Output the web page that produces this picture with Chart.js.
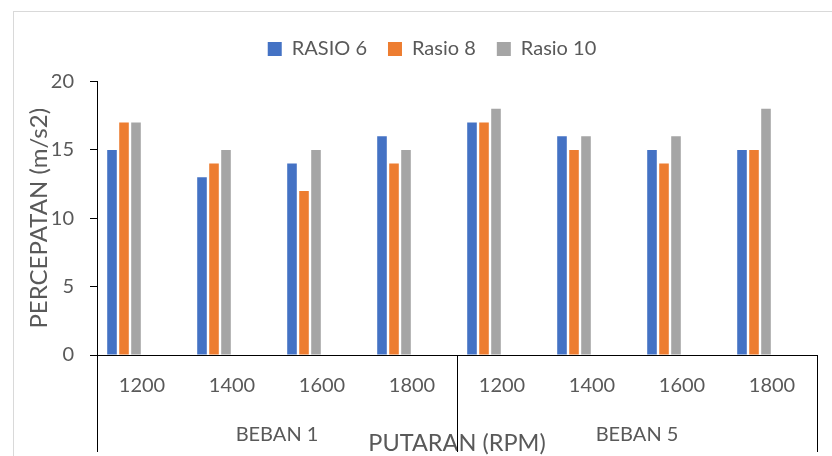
<!DOCTYPE html>
<html>
<head>
<meta charset="utf-8">
<script src="https://cdn.jsdelivr.net/npm/chart.js@4/dist/chart.umd.min.js"></script>
<style>
  html, body { margin: 0; padding: 0; background: #ffffff; overflow: hidden; }
  #wrap { position: relative; width: 832px; height: 456px; overflow: hidden; }
  #frame { position: absolute; left: 13px; top: 11px; width: 900px; height: 600px; border: 1px solid #d9d9d9; }
  #c { position: absolute; left: 0; top: 0; }
</style>
</head>
<body>
<div id="wrap">
  <div id="frame"></div>
  <canvas id="c" width="832" height="456"></canvas>
</div>
<script>
// ---- data ----
const categories = ['1200', '1400', '1600', '1800', '1200', '1400', '1600', '1800'];
const groups = ['BEBAN 1', 'BEBAN 5'];
const seriesNames = ['RASIO 6', 'Rasio 8', 'Rasio 10'];
const rasio6 = [15, 13, 14, 16, 17, 16, 15, 15];
const rasio8 = [17, 14, 12, 14, 17, 15, 14, 15];
const rasio10 = [17, 15, 15, 15, 18, 16, 16, 18];
const emptySeries = [];
const yTickStep = 5;
const yMin = 0;
const yMax = 20;
const xTitle = 'PUTARAN (RPM)';
const yTitle = 'PERCEPATAN (m/s2)';

const colors = ['#4472C4', '#ED7D31', '#A5A5A5'];
const textColor = '#595959';
const FONT = 'Lato, "Open Sans", sans-serif';

function build() {
  const seriesValues = [rasio6, rasio8, rasio10];
  const datasets = seriesValues.map((vals, i) => ({
    label: seriesNames[i],
    data: vals,
    backgroundColor: colors[i],
    borderWidth: 0,
    categoryPercentage: 0.8,
    barPercentage: 0.8
  }));
  // three empty series (as in the source workbook) keep the bar slots
  for (let k = 0; k < 3; k++) {
    datasets.push({ label: '', data: emptySeries, backgroundColor: 'rgba(0,0,0,0)', categoryPercentage: 0.8, barPercentage: 0.8 });
  }

  const legendSpace = {
    id: 'legendSpace',
    beforeInit(chart) {
      const origFit = chart.legend.fit;
      chart.legend.fit = function () {
        origFit.bind(chart.legend)();
        this.height += 12.5;
      };
    }
  };

  const dividerLines = {
    id: 'dividerLines',
    afterDraw(chart) {
      const xs = chart.scales.x;
      const ctx = chart.ctx;
      const bottom = chart.height - 4;
      ctx.save();
      ctx.strokeStyle = '#000000';
      ctx.lineWidth = 1;
      const positions = [-0.5, (categories.length / groups.length) - 0.5, categories.length - 0.5];
      positions.forEach(v => {
        const px = Math.round(xs.getPixelForValue(v)) + 0.5;
        ctx.beginPath();
        ctx.moveTo(px, xs.top);
        ctx.lineTo(px, bottom);
        ctx.stroke();
      });
      ctx.restore();
    }
  };

  new Chart(document.getElementById('c'), {
    type: 'bar',
    data: { labels: categories, datasets },
    plugins: [legendSpace, dividerLines],
    options: {
      responsive: false,
      animation: false,
      devicePixelRatio: 1,
      layout: { padding: { left: 47, right: 15, top: 18, bottom: 0 } },
      plugins: {
        legend: {
          display: true,
          position: 'top',
          labels: {
            boxWidth: 14,
            boxHeight: 14,
            padding: 21,
            color: textColor,
            font: { family: FONT, size: 20 },
            filter: item => item.text !== ''
          }
        },
        tooltip: { enabled: false }
      },
      scales: {
        x: {
          type: 'category',
          position: 'bottom',
          weight: 0,
          offset: true,
          grid: { display: false, drawTicks: false },
          border: { display: true, color: '#000000', width: 1 },
          ticks: { color: textColor, font: { family: FONT, size: 20 }, padding: 19, maxRotation: 0, autoSkip: false },
          afterFit(axis) { axis.height = 62; }
        },
        x2: {
          type: 'category',
          position: 'bottom',
          weight: 1,
          labels: groups,
          offset: true,
          grid: { display: false, drawTicks: false },
          border: { display: false },
          ticks: { color: textColor, font: { family: FONT, size: 20 }, padding: 6, maxRotation: 0, autoSkip: false },
          title: {
            display: true,
            text: xTitle,
            color: textColor,
            font: { family: FONT, size: 23.5 },
            padding: { top: -22, bottom: -2 }
          },
          afterFit(axis) { axis.height = 39; }
        },
        y: {
          type: 'linear',
          min: yMin,
          max: yMax,
          ticks: { stepSize: yTickStep, color: textColor, font: { family: FONT, size: 20 }, padding: 16 },
          grid: { display: true, drawOnChartArea: false, drawTicks: true, tickLength: 7, color: '#000000', lineWidth: 1 },
          border: { display: true, color: '#000000', width: 1 },
          title: {
            display: true,
            text: yTitle,
            color: textColor,
            font: { family: FONT, size: 24 },
            padding: { top: -22.4, bottom: -16 }
          },
          afterFit(axis) { axis.width = 50; }
        }
      }
    }
  });
}

if (document.fonts && document.fonts.load) {
  Promise.all([document.fonts.load('20px Lato'), document.fonts.load('24px Lato')]).then(build, build);
} else {
  build();
}
</script>
</body>
</html>
